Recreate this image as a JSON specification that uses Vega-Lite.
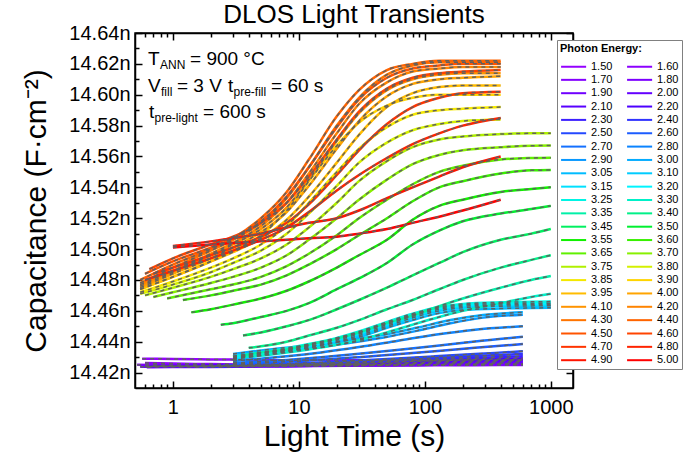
{
  "$schema": "https://vega.github.io/schema/vega-lite/v6.json",
  "width": 438,
  "height": 355,
  "autosize": {"type": "none"},
  "padding": {"left": 135, "top": 33, "right": 115, "bottom": 77},
  "background": "white",
  "title": {"text": "DLOS Light Transients", "fontSize": 26, "font": "Liberation Sans", "fontWeight": "normal", "color": "black", "anchor": "middle", "baseline": "alphabetic", "offset": -26},
  "config": {"view": {"stroke": "black", "strokeWidth": 1.5}, "font": "Liberation Sans"},
  "resolve": {"axis": {"x": "independent", "y": "independent"}},
  "datasets": {
    "lines": [
      {"e":"1.50","t":0.57,"c":14.4290},{"e":"1.50","t":1,"c":14.4288},{"e":"1.50","t":2,"c":14.4285},{"e":"1.50","t":4,"c":14.4283},{"e":"1.50","t":8,"c":14.4280},{"e":"1.50","t":15,"c":14.4282},{"e":"1.50","t":30,"c":14.4279},{"e":"1.50","t":60,"c":14.4281},{"e":"1.50","t":120,"c":14.4280},{"e":"1.50","t":250,"c":14.4282},{"e":"1.50","t":600,"c":14.4281},
      {"e":"1.60","t":0.6,"c":14.4262},{"e":"1.60","t":1,"c":14.4258},{"e":"1.60","t":2,"c":14.4255},{"e":"1.60","t":4,"c":14.4252},{"e":"1.60","t":8,"c":14.4250},{"e":"1.60","t":15,"c":14.4252},{"e":"1.60","t":30,"c":14.4250},{"e":"1.60","t":60,"c":14.4252},{"e":"1.60","t":120,"c":14.4251},{"e":"1.60","t":250,"c":14.4253},{"e":"1.60","t":600,"c":14.4252},
      {"e":"1.70","t":0.52,"c":14.4250},{"e":"1.70","t":1,"c":14.4247},{"e":"1.70","t":2,"c":14.4245},{"e":"1.70","t":4,"c":14.4244},{"e":"1.70","t":8,"c":14.4243},{"e":"1.70","t":15,"c":14.4244},{"e":"1.70","t":30,"c":14.4245},{"e":"1.70","t":60,"c":14.4246},{"e":"1.70","t":120,"c":14.4247},{"e":"1.70","t":250,"c":14.4248},{"e":"1.70","t":600,"c":14.4249},
      {"e":"1.80","t":0.6,"c":14.4240},{"e":"1.80","t":1,"c":14.4241},{"e":"1.80","t":2,"c":14.4241},{"e":"1.80","t":4,"c":14.4242},{"e":"1.80","t":8,"c":14.4243},{"e":"1.80","t":15,"c":14.4244},{"e":"1.80","t":30,"c":14.4246},{"e":"1.80","t":60,"c":14.4248},{"e":"1.80","t":120,"c":14.4250},{"e":"1.80","t":250,"c":14.4253},{"e":"1.80","t":600,"c":14.4255},
      {"e":"1.90","t":0.62,"c":14.4235},{"e":"1.90","t":1,"c":14.4236},{"e":"1.90","t":2,"c":14.4236},{"e":"1.90","t":4,"c":14.4238},{"e":"1.90","t":8,"c":14.4240},{"e":"1.90","t":15,"c":14.4243},{"e":"1.90","t":30,"c":14.4246},{"e":"1.90","t":60,"c":14.4249},{"e":"1.90","t":120,"c":14.4253},{"e":"1.90","t":250,"c":14.4258},{"e":"1.90","t":600,"c":14.4262},
      {"e":"2.00","t":0.55,"c":14.4238},{"e":"2.00","t":1,"c":14.4239},{"e":"2.00","t":2,"c":14.4240},{"e":"2.00","t":4,"c":14.4241},{"e":"2.00","t":8,"c":14.4244},{"e":"2.00","t":15,"c":14.4248},{"e":"2.00","t":30,"c":14.4252},{"e":"2.00","t":60,"c":14.4256},{"e":"2.00","t":120,"c":14.4261},{"e":"2.00","t":250,"c":14.4267},{"e":"2.00","t":600,"c":14.4272},
      {"e":"2.10","t":0.65,"c":14.4240},{"e":"2.10","t":1,"c":14.4241},{"e":"2.10","t":2,"c":14.4242},{"e":"2.10","t":4,"c":14.4244},{"e":"2.10","t":8,"c":14.4248},{"e":"2.10","t":15,"c":14.4252},{"e":"2.10","t":30,"c":14.4257},{"e":"2.10","t":60,"c":14.4262},{"e":"2.10","t":120,"c":14.4269},{"e":"2.10","t":250,"c":14.4275},{"e":"2.10","t":600,"c":14.4282},
      {"e":"2.20","t":0.7,"c":14.4242},{"e":"2.20","t":1,"c":14.4243},{"e":"2.20","t":2,"c":14.4245},{"e":"2.20","t":4,"c":14.4247},{"e":"2.20","t":8,"c":14.4251},{"e":"2.20","t":15,"c":14.4256},{"e":"2.20","t":30,"c":14.4262},{"e":"2.20","t":60,"c":14.4269},{"e":"2.20","t":120,"c":14.4276},{"e":"2.20","t":250,"c":14.4284},{"e":"2.20","t":600,"c":14.4292},
      {"e":"2.30","t":1.5,"c":14.4238},{"e":"2.30","t":2,"c":14.4239},{"e":"2.30","t":4,"c":14.4243},{"e":"2.30","t":8,"c":14.4249},{"e":"2.30","t":15,"c":14.4256},{"e":"2.30","t":30,"c":14.4265},{"e":"2.30","t":60,"c":14.4274},{"e":"2.30","t":120,"c":14.4284},{"e":"2.30","t":250,"c":14.4294},{"e":"2.30","t":600,"c":14.4305},
      {"e":"2.40","t":2,"c":14.4240},{"e":"2.40","t":4,"c":14.4245},{"e":"2.40","t":8,"c":14.4252},{"e":"2.40","t":15,"c":14.4260},{"e":"2.40","t":30,"c":14.4271},{"e":"2.40","t":60,"c":14.4282},{"e":"2.40","t":120,"c":14.4294},{"e":"2.40","t":250,"c":14.4307},{"e":"2.40","t":600,"c":14.4320},
      {"e":"2.50","t":2.5,"c":14.4245},{"e":"2.50","t":4,"c":14.4249},{"e":"2.50","t":8,"c":14.4257},{"e":"2.50","t":15,"c":14.4266},{"e":"2.50","t":30,"c":14.4278},{"e":"2.50","t":60,"c":14.4291},{"e":"2.50","t":120,"c":14.4305},{"e":"2.50","t":250,"c":14.4320},{"e":"2.50","t":600,"c":14.4338},
      {"e":"2.60","t":3,"c":14.4255},{"e":"2.60","t":5,"c":14.4262},{"e":"2.60","t":8,"c":14.4270},{"e":"2.60","t":15,"c":14.4283},{"e":"2.60","t":30,"c":14.4300},{"e":"2.60","t":60,"c":14.4318},{"e":"2.60","t":120,"c":14.4338},{"e":"2.60","t":250,"c":14.4360},{"e":"2.60","t":600,"c":14.4385},
      {"e":"2.70","t":3,"c":14.4262},{"e":"2.70","t":5,"c":14.4271},{"e":"2.70","t":8,"c":14.4282},{"e":"2.70","t":15,"c":14.4300},{"e":"2.70","t":30,"c":14.4322},{"e":"2.70","t":60,"c":14.4346},{"e":"2.70","t":120,"c":14.4372},{"e":"2.70","t":250,"c":14.4402},{"e":"2.70","t":600,"c":14.4432},
      {"e":"2.80","t":3,"c":14.4275},{"e":"2.80","t":5,"c":14.4290},{"e":"2.80","t":8,"c":14.4305},{"e":"2.80","t":15,"c":14.4330},{"e":"2.80","t":30,"c":14.4365},{"e":"2.80","t":60,"c":14.4405},{"e":"2.80","t":120,"c":14.4445},{"e":"2.80","t":250,"c":14.4478},{"e":"2.80","t":600,"c":14.4500},
      {"e":"2.90","t":3,"c":14.4305},{"e":"2.90","t":4,"c":14.4318},{"e":"2.90","t":7.5,"c":14.4342},{"e":"2.90","t":14,"c":14.4362},{"e":"2.90","t":25,"c":14.4392},{"e":"2.90","t":46,"c":14.4426},{"e":"2.90","t":86,"c":14.4470},{"e":"2.90","t":160,"c":14.4520},{"e":"2.90","t":290,"c":14.4556},{"e":"2.90","t":600,"c":14.4575},
      {"e":"3.00","t":3,"c":14.4320},{"e":"3.00","t":4,"c":14.4333},{"e":"3.00","t":7.5,"c":14.4360},{"e":"3.00","t":14,"c":14.4378},{"e":"3.00","t":25,"c":14.4410},{"e":"3.00","t":46,"c":14.4444},{"e":"3.00","t":86,"c":14.4490},{"e":"3.00","t":160,"c":14.4540},{"e":"3.00","t":290,"c":14.4573},{"e":"3.00","t":600,"c":14.4590},
      {"e":"3.05","t":3,"c":14.4285},{"e":"3.05","t":5,"c":14.4310},{"e":"3.05","t":8,"c":14.4335},{"e":"3.05","t":12,"c":14.4360},{"e":"3.05","t":20,"c":14.4395},{"e":"3.05","t":30,"c":14.4430},{"e":"3.05","t":50,"c":14.4490},{"e":"3.05","t":80,"c":14.4540},{"e":"3.05","t":130,"c":14.4585},{"e":"3.05","t":200,"c":14.4605},{"e":"3.05","t":400,"c":14.4615},{"e":"3.05","t":700,"c":14.4618},{"e":"3.05","t":1000,"c":14.4620},
      {"e":"3.10","t":3,"c":14.4290},{"e":"3.10","t":5,"c":14.4315},{"e":"3.10","t":8,"c":14.4340},{"e":"3.10","t":12,"c":14.4365},{"e":"3.10","t":20,"c":14.4400},{"e":"3.10","t":30,"c":14.4440},{"e":"3.10","t":50,"c":14.4500},{"e":"3.10","t":80,"c":14.4555},{"e":"3.10","t":130,"c":14.4600},{"e":"3.10","t":200,"c":14.4620},{"e":"3.10","t":400,"c":14.4630},{"e":"3.10","t":700,"c":14.4632},{"e":"3.10","t":1000,"c":14.4633},
      {"e":"3.15","t":3,"c":14.4295},{"e":"3.15","t":5,"c":14.4320},{"e":"3.15","t":8,"c":14.4345},{"e":"3.15","t":12,"c":14.4370},{"e":"3.15","t":20,"c":14.4410},{"e":"3.15","t":30,"c":14.4450},{"e":"3.15","t":50,"c":14.4510},{"e":"3.15","t":80,"c":14.4565},{"e":"3.15","t":130,"c":14.4610},{"e":"3.15","t":200,"c":14.4630},{"e":"3.15","t":400,"c":14.4638},{"e":"3.15","t":700,"c":14.4640},{"e":"3.15","t":1000,"c":14.4641},
      {"e":"3.20","t":3,"c":14.4300},{"e":"3.20","t":5,"c":14.4325},{"e":"3.20","t":8,"c":14.4350},{"e":"3.20","t":12,"c":14.4378},{"e":"3.20","t":20,"c":14.4418},{"e":"3.20","t":30,"c":14.4458},{"e":"3.20","t":50,"c":14.4520},{"e":"3.20","t":80,"c":14.4575},{"e":"3.20","t":130,"c":14.4618},{"e":"3.20","t":200,"c":14.4638},{"e":"3.20","t":400,"c":14.4646},{"e":"3.20","t":700,"c":14.4648},{"e":"3.20","t":1000,"c":14.4649},
      {"e":"3.25","t":3,"c":14.4305},{"e":"3.25","t":5,"c":14.4330},{"e":"3.25","t":8,"c":14.4357},{"e":"3.25","t":12,"c":14.4385},{"e":"3.25","t":20,"c":14.4425},{"e":"3.25","t":30,"c":14.4466},{"e":"3.25","t":50,"c":14.4528},{"e":"3.25","t":80,"c":14.4582},{"e":"3.25","t":130,"c":14.4625},{"e":"3.25","t":200,"c":14.4645},{"e":"3.25","t":400,"c":14.4655},{"e":"3.25","t":700,"c":14.4658},{"e":"3.25","t":1000,"c":14.4660},
      {"e":"3.30","t":3.5,"c":14.4300},{"e":"3.30","t":5,"c":14.4310},{"e":"3.30","t":8,"c":14.4330},{"e":"3.30","t":12,"c":14.4350},{"e":"3.30","t":20,"c":14.4380},{"e":"3.30","t":30,"c":14.4410},{"e":"3.30","t":50,"c":14.4460},{"e":"3.30","t":80,"c":14.4510},{"e":"3.30","t":130,"c":14.4560},{"e":"3.30","t":200,"c":14.4600},{"e":"3.30","t":400,"c":14.4650},{"e":"3.30","t":700,"c":14.4690},{"e":"3.30","t":1000,"c":14.4710},
      {"e":"3.35","t":3.5,"c":14.4310},{"e":"3.35","t":5,"c":14.4330},{"e":"3.35","t":8,"c":14.4350},{"e":"3.35","t":12,"c":14.4380},{"e":"3.35","t":20,"c":14.4420},{"e":"3.35","t":30,"c":14.4460},{"e":"3.35","t":50,"c":14.4520},{"e":"3.35","t":80,"c":14.4570},{"e":"3.35","t":130,"c":14.4630},{"e":"3.35","t":200,"c":14.4680},{"e":"3.35","t":400,"c":14.4750},{"e":"3.35","t":700,"c":14.4800},{"e":"3.35","t":1000,"c":14.4825},
      {"e":"3.40","t":4,"c":14.4360},{"e":"3.40","t":5,"c":14.4370},{"e":"3.40","t":8,"c":14.4400},{"e":"3.40","t":12,"c":14.4440},{"e":"3.40","t":20,"c":14.4490},{"e":"3.40","t":30,"c":14.4540},{"e":"3.40","t":50,"c":14.4610},{"e":"3.40","t":80,"c":14.4670},{"e":"3.40","t":130,"c":14.4740},{"e":"3.40","t":200,"c":14.4800},{"e":"3.40","t":400,"c":14.4880},{"e":"3.40","t":700,"c":14.4930},{"e":"3.40","t":1000,"c":14.4960},
      {"e":"3.45","t":3.6,"c":14.4440},{"e":"3.45","t":5,"c":14.4460},{"e":"3.45","t":8,"c":14.4500},{"e":"3.45","t":12,"c":14.4540},{"e":"3.45","t":20,"c":14.4610},{"e":"3.45","t":30,"c":14.4670},{"e":"3.45","t":50,"c":14.4750},{"e":"3.45","t":80,"c":14.4830},{"e":"3.45","t":130,"c":14.4910},{"e":"3.45","t":200,"c":14.4980},{"e":"3.45","t":400,"c":14.5060},{"e":"3.45","t":700,"c":14.5100},{"e":"3.45","t":1000,"c":14.5130},
      {"e":"3.50","t":2.4,"c":14.4510},{"e":"3.50","t":3,"c":14.4520},{"e":"3.50","t":5,"c":14.4560},{"e":"3.50","t":8,"c":14.4600},{"e":"3.50","t":12,"c":14.4650},{"e":"3.50","t":20,"c":14.4740},{"e":"3.50","t":30,"c":14.4810},{"e":"3.50","t":50,"c":14.4910},{"e":"3.50","t":80,"c":14.5030},{"e":"3.50","t":130,"c":14.5120},{"e":"3.50","t":200,"c":14.5180},{"e":"3.50","t":400,"c":14.5230},{"e":"3.50","t":700,"c":14.5260},{"e":"3.50","t":1000,"c":14.5280},
      {"e":"3.55","t":1.4,"c":14.4590},{"e":"3.55","t":2,"c":14.4610},{"e":"3.55","t":3,"c":14.4640},{"e":"3.55","t":5,"c":14.4680},{"e":"3.55","t":8,"c":14.4730},{"e":"3.55","t":12,"c":14.4790},{"e":"3.55","t":20,"c":14.4880},{"e":"3.55","t":30,"c":14.4960},{"e":"3.55","t":50,"c":14.5060},{"e":"3.55","t":80,"c":14.5190},{"e":"3.55","t":130,"c":14.5280},{"e":"3.55","t":200,"c":14.5320},{"e":"3.55","t":400,"c":14.5370},{"e":"3.55","t":700,"c":14.5390},{"e":"3.55","t":1000,"c":14.5400},
      {"e":"3.60","t":1.2,"c":14.4670},{"e":"3.60","t":2,"c":14.4700},{"e":"3.60","t":3,"c":14.4730},{"e":"3.60","t":5,"c":14.4770},{"e":"3.60","t":8,"c":14.4830},{"e":"3.60","t":12,"c":14.4900},{"e":"3.60","t":20,"c":14.5000},{"e":"3.60","t":30,"c":14.5090},{"e":"3.60","t":50,"c":14.5200},{"e":"3.60","t":80,"c":14.5310},{"e":"3.60","t":130,"c":14.5400},{"e":"3.60","t":200,"c":14.5440},{"e":"3.60","t":400,"c":14.5490},{"e":"3.60","t":700,"c":14.5510},{"e":"3.60","t":1000,"c":14.5512},
      {"e":"3.65","t":0.9,"c":14.4680},{"e":"3.65","t":2,"c":14.4740},{"e":"3.65","t":3,"c":14.4770},{"e":"3.65","t":5,"c":14.4820},{"e":"3.65","t":8,"c":14.4890},{"e":"3.65","t":12,"c":14.4970},{"e":"3.65","t":20,"c":14.5090},{"e":"3.65","t":30,"c":14.5200},{"e":"3.65","t":50,"c":14.5320},{"e":"3.65","t":80,"c":14.5420},{"e":"3.65","t":130,"c":14.5500},{"e":"3.65","t":200,"c":14.5540},{"e":"3.65","t":400,"c":14.5580},{"e":"3.65","t":700,"c":14.5590},{"e":"3.65","t":1000,"c":14.5592},
      {"e":"3.70","t":0.7,"c":14.4690},{"e":"3.70","t":1,"c":14.4720},{"e":"3.70","t":2,"c":14.4780},{"e":"3.70","t":3,"c":14.4820},{"e":"3.70","t":5,"c":14.4880},{"e":"3.70","t":8,"c":14.4960},{"e":"3.70","t":12,"c":14.5060},{"e":"3.70","t":20,"c":14.5200},{"e":"3.70","t":30,"c":14.5320},{"e":"3.70","t":50,"c":14.5450},{"e":"3.70","t":80,"c":14.5550},{"e":"3.70","t":130,"c":14.5610},{"e":"3.70","t":200,"c":14.5640},{"e":"3.70","t":400,"c":14.5660},{"e":"3.70","t":700,"c":14.5670},{"e":"3.70","t":1000,"c":14.5671},
      {"e":"3.75","t":0.6,"c":14.4700},{"e":"3.75","t":1,"c":14.4750},{"e":"3.75","t":2,"c":14.4820},{"e":"3.75","t":3,"c":14.4870},{"e":"3.75","t":5,"c":14.4940},{"e":"3.75","t":8,"c":14.5030},{"e":"3.75","t":12,"c":14.5140},{"e":"3.75","t":20,"c":14.5300},{"e":"3.75","t":30,"c":14.5440},{"e":"3.75","t":50,"c":14.5570},{"e":"3.75","t":80,"c":14.5660},{"e":"3.75","t":130,"c":14.5710},{"e":"3.75","t":200,"c":14.5730},{"e":"3.75","t":400,"c":14.5745},{"e":"3.75","t":700,"c":14.5750},{"e":"3.75","t":1000,"c":14.5750},
      {"e":"3.80","t":0.55,"c":14.4710},{"e":"3.80","t":1,"c":14.4770},{"e":"3.80","t":2,"c":14.4850},{"e":"3.80","t":3,"c":14.4910},{"e":"3.80","t":5,"c":14.4990},{"e":"3.80","t":8,"c":14.5100},{"e":"3.80","t":12,"c":14.5230},{"e":"3.80","t":20,"c":14.5410},{"e":"3.80","t":30,"c":14.5560},{"e":"3.80","t":50,"c":14.5690},{"e":"3.80","t":80,"c":14.5770},{"e":"3.80","t":130,"c":14.5810},{"e":"3.80","t":200,"c":14.5830},{"e":"3.80","t":400,"c":14.5840},
      {"e":"3.85","t":0.55,"c":14.4720},{"e":"3.85","t":1,"c":14.4790},{"e":"3.85","t":2,"c":14.4880},{"e":"3.85","t":3,"c":14.4940},{"e":"3.85","t":5,"c":14.5030},{"e":"3.85","t":8,"c":14.5150},{"e":"3.85","t":12,"c":14.5300},{"e":"3.85","t":20,"c":14.5500},{"e":"3.85","t":30,"c":14.5650},{"e":"3.85","t":50,"c":14.5790},{"e":"3.85","t":80,"c":14.5870},{"e":"3.85","t":130,"c":14.5900},{"e":"3.85","t":200,"c":14.5910},{"e":"3.85","t":400,"c":14.5920},
      {"e":"3.90","t":0.55,"c":14.4740},{"e":"3.90","t":1,"c":14.4820},{"e":"3.90","t":2,"c":14.4920},{"e":"3.90","t":3,"c":14.4990},{"e":"3.90","t":5,"c":14.5090},{"e":"3.90","t":8,"c":14.5250},{"e":"3.90","t":12,"c":14.5440},{"e":"3.90","t":20,"c":14.5670},{"e":"3.90","t":30,"c":14.5820},{"e":"3.90","t":50,"c":14.5930},{"e":"3.90","t":80,"c":14.5980},{"e":"3.90","t":130,"c":14.6000},{"e":"3.90","t":200,"c":14.6000},{"e":"3.90","t":400,"c":14.6000},
      {"e":"3.95","t":0.55,"c":14.4740},{"e":"3.95","t":1,"c":14.4820},{"e":"3.95","t":2,"c":14.4920},{"e":"3.95","t":3,"c":14.4980},{"e":"3.95","t":5,"c":14.5070},{"e":"3.95","t":8,"c":14.5190},{"e":"3.95","t":12,"c":14.5340},{"e":"3.95","t":20,"c":14.5560},{"e":"3.95","t":30,"c":14.5740},{"e":"3.95","t":50,"c":14.5920},{"e":"3.95","t":80,"c":14.6010},{"e":"3.95","t":130,"c":14.6050},{"e":"3.95","t":200,"c":14.6060},{"e":"3.95","t":400,"c":14.6060},
      {"e":"4.00","t":0.55,"c":14.4750},{"e":"4.00","t":1,"c":14.4840},{"e":"4.00","t":2,"c":14.4940},{"e":"4.00","t":3,"c":14.5010},{"e":"4.00","t":5,"c":14.5110},{"e":"4.00","t":8,"c":14.5240},{"e":"4.00","t":12,"c":14.5410},{"e":"4.00","t":20,"c":14.5650},{"e":"4.00","t":30,"c":14.5830},{"e":"4.00","t":50,"c":14.5990},{"e":"4.00","t":80,"c":14.6070},{"e":"4.00","t":130,"c":14.6100},{"e":"4.00","t":200,"c":14.6110},{"e":"4.00","t":400,"c":14.6120},
      {"e":"4.10","t":0.55,"c":14.4760},{"e":"4.10","t":1,"c":14.4850},{"e":"4.10","t":2,"c":14.4960},{"e":"4.10","t":3,"c":14.5030},{"e":"4.10","t":5,"c":14.5130},{"e":"4.10","t":8,"c":14.5270},{"e":"4.10","t":12,"c":14.5450},{"e":"4.10","t":20,"c":14.5700},{"e":"4.10","t":30,"c":14.5880},{"e":"4.10","t":50,"c":14.6030},{"e":"4.10","t":80,"c":14.6100},{"e":"4.10","t":130,"c":14.6130},{"e":"4.10","t":200,"c":14.6140},{"e":"4.10","t":400,"c":14.6140},
      {"e":"4.20","t":0.55,"c":14.4770},{"e":"4.20","t":1,"c":14.4860},{"e":"4.20","t":2,"c":14.4970},{"e":"4.20","t":3,"c":14.5040},{"e":"4.20","t":5,"c":14.5150},{"e":"4.20","t":8,"c":14.5300},{"e":"4.20","t":12,"c":14.5490},{"e":"4.20","t":20,"c":14.5750},{"e":"4.20","t":30,"c":14.5940},{"e":"4.20","t":50,"c":14.6080},{"e":"4.20","t":80,"c":14.6150},{"e":"4.20","t":130,"c":14.6170},{"e":"4.20","t":200,"c":14.6180},{"e":"4.20","t":400,"c":14.6180},
      {"e":"4.30","t":0.55,"c":14.4780},{"e":"4.30","t":1,"c":14.4880},{"e":"4.30","t":2,"c":14.4990},{"e":"4.30","t":3,"c":14.5060},{"e":"4.30","t":5,"c":14.5170},{"e":"4.30","t":8,"c":14.5330},{"e":"4.30","t":12,"c":14.5530},{"e":"4.30","t":20,"c":14.5800},{"e":"4.30","t":30,"c":14.5980},{"e":"4.30","t":50,"c":14.6130},{"e":"4.30","t":80,"c":14.6190},{"e":"4.30","t":130,"c":14.6210},{"e":"4.30","t":200,"c":14.6210},{"e":"4.30","t":400,"c":14.6210},
      {"e":"4.40","t":0.55,"c":14.4800},{"e":"4.40","t":1,"c":14.4900},{"e":"4.40","t":2,"c":14.5000},{"e":"4.40","t":3,"c":14.5070},{"e":"4.40","t":5,"c":14.5200},{"e":"4.40","t":8,"c":14.5370},{"e":"4.40","t":12,"c":14.5580},{"e":"4.40","t":20,"c":14.5860},{"e":"4.40","t":30,"c":14.6030},{"e":"4.40","t":50,"c":14.6160},{"e":"4.40","t":80,"c":14.6200},{"e":"4.40","t":130,"c":14.6220},{"e":"4.40","t":200,"c":14.6220},{"e":"4.40","t":400,"c":14.6220},
      {"e":"4.50","t":0.6,"c":14.4840},{"e":"4.50","t":1,"c":14.4920},{"e":"4.50","t":2,"c":14.5010},{"e":"4.50","t":3,"c":14.5070},{"e":"4.50","t":5,"c":14.5180},{"e":"4.50","t":8,"c":14.5340},{"e":"4.50","t":12,"c":14.5530},{"e":"4.50","t":20,"c":14.5790},{"e":"4.50","t":30,"c":14.5970},{"e":"4.50","t":50,"c":14.6110},{"e":"4.50","t":80,"c":14.6170},{"e":"4.50","t":130,"c":14.6190},{"e":"4.50","t":200,"c":14.6200},{"e":"4.50","t":400,"c":14.6200},
      {"e":"4.60","t":0.65,"c":14.4870},{"e":"4.60","t":1,"c":14.4940},{"e":"4.60","t":2,"c":14.5030},{"e":"4.60","t":3,"c":14.5080},{"e":"4.60","t":5,"c":14.5170},{"e":"4.60","t":8,"c":14.5300},{"e":"4.60","t":12,"c":14.5470},{"e":"4.60","t":20,"c":14.5710},{"e":"4.60","t":30,"c":14.5890},{"e":"4.60","t":50,"c":14.6040},{"e":"4.60","t":80,"c":14.6110},{"e":"4.60","t":130,"c":14.6140},{"e":"4.60","t":200,"c":14.6150},{"e":"4.60","t":400,"c":14.6160},
      {"e":"4.70","t":0.7,"c":14.4840},{"e":"4.70","t":1,"c":14.4880},{"e":"4.70","t":2,"c":14.4960},{"e":"4.70","t":3,"c":14.5010},{"e":"4.70","t":5,"c":14.5080},{"e":"4.70","t":8,"c":14.5170},{"e":"4.70","t":12,"c":14.5290},{"e":"4.70","t":20,"c":14.5480},{"e":"4.70","t":30,"c":14.5640},{"e":"4.70","t":50,"c":14.5810},{"e":"4.70","t":80,"c":14.5920},{"e":"4.70","t":130,"c":14.5980},{"e":"4.70","t":200,"c":14.6010},{"e":"4.70","t":400,"c":14.6020},
      {"e":"4.80","t":0.6,"c":14.4800},{"e":"4.80","t":1,"c":14.4860},{"e":"4.80","t":2,"c":14.4940},{"e":"4.80","t":3,"c":14.4990},{"e":"4.80","t":5,"c":14.5060},{"e":"4.80","t":8,"c":14.5140},{"e":"4.80","t":12,"c":14.5240},{"e":"4.80","t":20,"c":14.5380},{"e":"4.80","t":30,"c":14.5480},{"e":"4.80","t":50,"c":14.5590},{"e":"4.80","t":80,"c":14.5680},{"e":"4.80","t":130,"c":14.5750},{"e":"4.80","t":200,"c":14.5800},{"e":"4.80","t":400,"c":14.5850},
      {"e":"4.90","t":1,"c":14.5020},{"e":"4.90","t":2,"c":14.5050},{"e":"4.90","t":3,"c":14.5070},{"e":"4.90","t":5,"c":14.5100},{"e":"4.90","t":8,"c":14.5140},{"e":"4.90","t":12,"c":14.5170},{"e":"4.90","t":20,"c":14.5200},{"e":"4.90","t":30,"c":14.5250},{"e":"4.90","t":50,"c":14.5330},{"e":"4.90","t":80,"c":14.5400},{"e":"4.90","t":130,"c":14.5470},{"e":"4.90","t":200,"c":14.5530},{"e":"4.90","t":400,"c":14.5600},
      {"e":"5.00","t":1,"c":14.5010},{"e":"5.00","t":2,"c":14.5030},{"e":"5.00","t":3,"c":14.5040},{"e":"5.00","t":5,"c":14.5050},{"e":"5.00","t":8,"c":14.5060},{"e":"5.00","t":12,"c":14.5070},{"e":"5.00","t":20,"c":14.5080},{"e":"5.00","t":30,"c":14.5100},{"e":"5.00","t":50,"c":14.5130},{"e":"5.00","t":80,"c":14.5170},{"e":"5.00","t":130,"c":14.5210},{"e":"5.00","t":200,"c":14.5250},{"e":"5.00","t":400,"c":14.5320}
    ]
  },
  "layer": [
    {
      "data": {"name": "lines"},
      "mark": {"type": "line", "strokeWidth": 2.5, "clip": true, "interpolate": "monotone"},
      "encoding": {
        "x": {"field": "t", "type": "quantitative",
          "scale": {"type": "log", "domain": [0.5, 1500], "nice": false},
          "axis": {"orient": "bottom", "values": [0.6,0.7,0.8,0.9,1,2,3,4,5,6,7,8,9,10,20,30,40,50,60,70,80,90,100,200,300,400,500,600,700,800,900,1000],
            "labelExpr": "indexof([1,10,100,1000], datum.value) >= 0 ? format(datum.value, 'd') : ''",
            "tickSize": {"condition": {"test": "indexof([1,10,100,1000], datum.value) >= 0", "value": -7}, "value": -4},
            "tickColor": "black", "tickWidth": 1.5, "domainColor": "black", "domainWidth": 1.5,
            "labelFontSize": 20, "labelFont": "Liberation Sans", "labelColor": "black", "labelPadding": 16, "labelOverlap": false, "labelFlush": false, "labelBound": false,
            "grid": false, "title": "Light Time (s)", "titleFontSize": 30, "titleFont": "Liberation Sans", "titleFontWeight": "normal", "titleColor": "black", "titleBaseline": "alphabetic", "titleY": 57}},
        "y": {"field": "c", "type": "quantitative",
          "scale": {"domain": [14.41, 14.64], "nice": false, "zero": false},
          "axis": {"orient": "left", "values": [14.42,14.43,14.44,14.45,14.46,14.47,14.48,14.49,14.5,14.51,14.52,14.53,14.54,14.55,14.56,14.57,14.58,14.59,14.6,14.61,14.62,14.63,14.64],
            "labelExpr": "round(datum.value*100) % 2 == 0 ? format(datum.value, '.2f') + 'n' : ''",
            "tickSize": {"condition": {"test": "round(datum.value*100) % 2 == 0", "value": -7}, "value": -4},
            "tickColor": "black", "tickWidth": 1.5, "domainColor": "black", "domainWidth": 1.5,
            "labelFontSize": 20, "labelFont": "Liberation Sans", "labelColor": "black", "labelPadding": 12, "labelOverlap": false, "labelFlush": false, "labelBound": false,
            "grid": false, "title": "Capacitance (F·cm⁻²)", "titleFontSize": 30, "titleFont": "Liberation Sans", "titleFontWeight": "normal", "titleColor": "black", "titleBaseline": "alphabetic", "titleAngle": -90, "titleX": -90, "titleY": 177.5, "titleAlign": "center"}},
        "color": {"field": "e", "type": "nominal",
          "scale": {
            "domain": ["1.50","1.60","1.70","1.80","1.90","2.00","2.10","2.20","2.30","2.40","2.50","2.60","2.70","2.80","2.90","3.00","3.05","3.10","3.15","3.20","3.25","3.30","3.35","3.40","3.45","3.50","3.55","3.60","3.65","3.70","3.75","3.80","3.85","3.90","3.95","4.00","4.10","4.20","4.30","4.40","4.50","4.60","4.70","4.80","4.90","5.00"],
            "range": ["#9400ff","#8c00ff","#8400ff","#7c00ff","#7000ff","#6400ff","#5800ff","#4c00ff","#3c20ff","#3034ff","#2448ff","#1c5cff","#1470ff","#0c84ff","#0898ff","#04acff","#00bcff","#00ccff","#00e0ff","#00f4ff","#00f4e4","#00f0c8","#00f0a8","#00f088","#00f060","#00f030","#10f000","#38f000","#60f000","#88f000","#b0f000","#d4f000","#f4e800","#ffd400","#ffbc00","#ffa400","#ff9400","#ff8400","#ff7400","#ff6400","#ff5400","#ff4400","#ff3400","#ff2400","#ff1400","#ff0000"]
          },
          "legend": {"title": "Photon Energy:", "orient": "none", "legendX": 422, "legendY": 7, "columns": 2, "direction": "horizontal",
            "symbolType": "M-1,0H2.9", "symbolSize": 165, "symbolStrokeWidth": 2, "symbolLimit": 100,
            "labelFontSize": 11, "labelFont": "Liberation Sans", "labelColor": "black", "labelOffset": 16,
            "titleFontSize": 11, "titleFont": "Liberation Sans", "titleFontWeight": "bold", "titleColor": "black", "titlePadding": 5,
            "strokeColor": "#808080", "fillColor": "white", "padding": 3, "rowPadding": 0.35, "columnPadding": 10}
        }
      }
    },
    {
      "data": {"name": "lines"},
      "mark": {"type": "line", "strokeWidth": 1.5, "strokeDash": [4, 4], "color": "#606060", "clip": true, "interpolate": "monotone"},
      "encoding": {
        "x": {"field": "t", "type": "quantitative",
          "scale": {"type": "log", "domain": [0.5, 1500], "nice": false},
          "axis": {"orient": "top", "values": [0.6,0.7,0.8,0.9,1,2,3,4,5,6,7,8,9,10,20,30,40,50,60,70,80,90,100,200,300,400,500,600,700,800,900,1000],
            "labels": false, "title": null, "grid": false,
            "tickSize": {"condition": {"test": "indexof([1,10,100,1000], datum.value) >= 0", "value": -7}, "value": -4},
            "tickColor": "black", "tickWidth": 1.5, "domainColor": "black", "domainWidth": 1.5}},
        "y": {"field": "c", "type": "quantitative",
          "scale": {"domain": [14.41, 14.64], "nice": false, "zero": false},
          "axis": {"orient": "right", "values": [14.42,14.43,14.44,14.45,14.46,14.47,14.48,14.49,14.5,14.51,14.52,14.53,14.54,14.55,14.56,14.57,14.58,14.59,14.6,14.61,14.62,14.63,14.64],
            "labels": false, "title": null, "grid": false,
            "tickSize": {"condition": {"test": "round(datum.value*100) % 2 == 0", "value": -7}, "value": -4},
            "tickColor": "black", "tickWidth": 1.5, "domainColor": "black", "domainWidth": 1.5}},
        "detail": {"field": "e", "type": "nominal"}
      }
    },
    {
      "data": {"values": [
        {"t":0.6342,"c":14.619268,"s":"T"},
        {"t":1.3667,"c":14.619268,"s":"= 900 °C"},
        {"t":0.6342,"c":14.601775,"s":"V"},
        {"t":1.0774,"c":14.601775,"s":"= 3 V"},
        {"t":2.7366,"c":14.601775,"s":"t"},
        {"t":6.007,"c":14.601775,"s":"= 60 s"},
        {"t":0.6459,"c":14.584930,"s":"t"},
        {"t":1.7331,"c":14.584930,"s":"= 600 s"}
      ]},
      "mark": {"type": "text", "align": "left", "baseline": "alphabetic", "fontSize": 19, "font": "Liberation Sans", "color": "black"},
      "encoding": {
        "x": {"field": "t", "type": "quantitative", "scale": {"type": "log", "domain": [0.5, 1500], "nice": false}, "axis": null},
        "y": {"field": "c", "type": "quantitative", "scale": {"domain": [14.41, 14.64], "nice": false, "zero": false}, "axis": null},
        "text": {"field": "s"}
      }
    },
    {
      "data": {"values": [
        {"t":0.7893,"c":14.616676,"s":"ANN"},
        {"t":0.8039,"c":14.599184,"s":"fill"},
        {"t":3.0261,"c":14.599184,"s":"pre-fill"},
        {"t":0.7139,"c":14.582339,"s":"pre-light"}
      ]},
      "mark": {"type": "text", "align": "left", "baseline": "alphabetic", "fontSize": 12, "font": "Liberation Sans", "color": "black"},
      "encoding": {
        "x": {"field": "t", "type": "quantitative", "scale": {"type": "log", "domain": [0.5, 1500], "nice": false}, "axis": null},
        "y": {"field": "c", "type": "quantitative", "scale": {"domain": [14.41, 14.64], "nice": false, "zero": false}, "axis": null},
        "text": {"field": "s"}
      }
    }
  ]
}
